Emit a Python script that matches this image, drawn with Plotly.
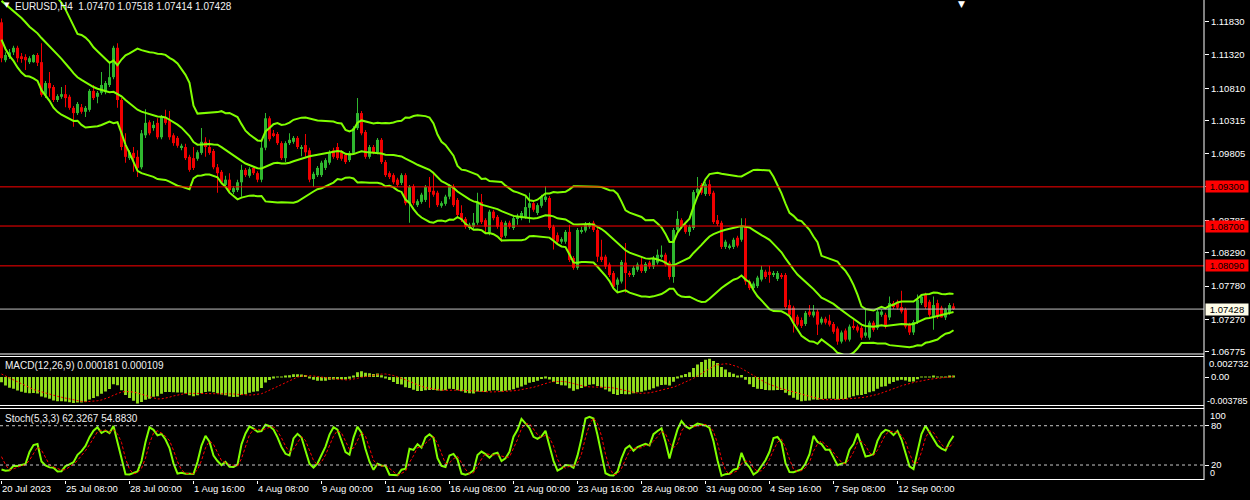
import numpy as np
import pandas as pd
import plotly.graph_objects as go

FONT = "Liberation Sans, Arial, sans-serif"

# ---- warm-up history (bars before the visible window, used only to seed indicators)
hist_close = [1.1110, 1.1130, 1.1135, 1.1140, 1.1160, 1.1170, 1.1210, 1.1225, 1.1230, 1.1235,
              1.1240, 1.1230, 1.1225, 1.1228, 1.1230, 1.1235, 1.1240, 1.1238, 1.1245, 1.1235,
              1.1230, 1.1240, 1.1255, 1.1265, 1.1230, 1.1225, 1.1215, 1.1210, 1.1195, 1.1200,
              1.1205, 1.1200, 1.1200, 1.1205, 1.1195, 1.1182]
hist_high = [1.1125, 1.1138, 1.1142, 1.1146, 1.1168, 1.1180, 1.1220, 1.1230, 1.1238, 1.1244,
             1.1249, 1.1245, 1.1240, 1.1235, 1.1236, 1.1240, 1.1248, 1.1250, 1.1252, 1.1248,
             1.1240, 1.1245, 1.1262, 1.1276, 1.1268, 1.1235, 1.1228, 1.1220, 1.1215, 1.1208,
             1.1215, 1.1210, 1.1206, 1.1210, 1.1210, 1.1198]
hist_low = [1.1060, 1.1105, 1.1125, 1.1128, 1.1135, 1.1150, 1.1165, 1.1205, 1.1220, 1.1225,
            1.1222, 1.1215, 1.1212, 1.1218, 1.1220, 1.1225, 1.1228, 1.1230, 1.1225, 1.1230,
            1.1225, 1.1228, 1.1235, 1.1250, 1.1222, 1.1218, 1.1210, 1.1203, 1.1188, 1.1185,
            1.1195, 1.1195, 1.1195, 1.1196, 1.1188, 1.1175]

# ---- visible H4 bars (20 Jul 2023 16:00 -> 14 Sep 2023)
opens = [
    1.1182, 1.1124, 1.1129, 1.1136, 1.1143, 1.1130, 1.1129, 1.1121, 1.1121, 1.1132,
    1.1121, 1.1071, 1.1089, 1.1083, 1.1063, 1.1068, 1.1072, 1.1068, 1.1051, 1.1043,
    1.1052, 1.1045, 1.1048, 1.1077, 1.1068, 1.1074, 1.1075, 1.1086, 1.1098, 1.1143,
    1.1063, 1.0994, 1.0974, 1.0982, 1.0976, 1.0960, 1.1009, 1.1029, 1.1020, 1.1028,
    1.1006, 1.1037, 1.1032, 1.1009, 1.1005, 1.0990, 1.0991, 1.0976, 1.0974, 1.0973,
    1.0982, 1.0999, 1.0991, 1.0985, 1.0960, 1.0953, 1.0933, 1.0941, 1.0922, 1.0925,
    1.0937, 1.0956, 1.0947, 1.0959, 1.0951, 1.0941, 1.0990, 1.1035, 1.1012, 1.1011,
    1.0997, 1.0974, 1.0997, 1.0999, 1.1005, 1.0988, 1.0994, 1.0986, 1.0942, 1.0948,
    1.0948, 1.0959, 1.0967, 1.0986, 1.0991, 1.0983, 1.0979, 1.0971, 1.0982, 1.1020,
    1.1043, 1.1014, 1.0976, 1.0991, 1.0983, 1.1002, 1.0968, 1.0951, 1.0948, 1.0941,
    1.0936, 1.0948, 1.0905, 1.0931, 1.0902, 1.0907, 1.0910, 1.0930, 1.0924, 1.0921,
    1.0901, 1.0904, 1.0915, 1.0931, 1.0910, 1.0890, 1.0881, 1.0867, 1.0869, 1.0875,
    1.0907, 1.0879, 1.0860, 1.0892, 1.0884, 1.0876, 1.0855, 1.0875, 1.0867, 1.0882,
    1.0882, 1.0884, 1.0898, 1.0905, 1.0890, 1.0901, 1.0910, 1.0913, 1.0869, 1.0856,
    1.0846, 1.0846, 1.0861, 1.0821, 1.0806, 1.0861, 1.0863, 1.0869, 1.0875, 1.0864,
    1.0823, 1.0823, 1.0811, 1.0798, 1.0780, 1.0785, 1.0814, 1.0798, 1.0795, 1.0803,
    1.0811, 1.0801, 1.0814, 1.0808, 1.0814, 1.0823, 1.0826, 1.0814, 1.0792, 1.0864,
    1.0879, 1.0872, 1.0861, 1.0867, 1.0921, 1.0933, 1.0919, 1.0934, 1.0921, 1.0879,
    1.0875, 1.0838, 1.0837, 1.0838, 1.0852, 1.0849, 1.0869, 1.0785, 1.0775, 1.0778,
    1.0788, 1.0800, 1.0800, 1.0795, 1.0789, 1.0795, 1.0795, 1.0749, 1.0745, 1.0731,
    1.0726, 1.0720, 1.0739, 1.0733, 1.0739, 1.0722, 1.0728, 1.0725, 1.0720, 1.0713,
    1.0693, 1.0710, 1.0696, 1.0717, 1.0716, 1.0714, 1.0702, 1.0699, 1.0722, 1.0714,
    1.0734, 1.0734, 1.0730, 1.0752, 1.0754, 1.0746, 1.0742, 1.0719, 1.0707, 1.0723,
    1.0752, 1.0765, 1.0754, 1.0731, 1.0752, 1.0745, 1.0730, 1.0737, 1.07470]
highs = [
    1.1188, 1.1136, 1.1141, 1.1146, 1.1146, 1.1135, 1.1133, 1.1130, 1.1133, 1.1135,
    1.1150, 1.1092, 1.1106, 1.1086, 1.1072, 1.1083, 1.1086, 1.1071, 1.1054, 1.1060,
    1.1057, 1.1054, 1.1080, 1.1086, 1.1077, 1.1106, 1.1092, 1.1121, 1.1146, 1.1150,
    1.1066, 1.1012, 1.0986, 1.0991, 1.0986, 1.1017, 1.1049, 1.1032, 1.1031, 1.1035,
    1.1040, 1.1048, 1.1046, 1.1012, 1.1008, 1.0996, 1.0996, 1.0979, 1.0991, 1.0986,
    1.1020, 1.1006, 1.1002, 1.0988, 1.0965, 1.0956, 1.0947, 1.0951, 1.0931, 1.0941,
    1.0964, 1.0959, 1.0960, 1.0962, 1.0954, 1.0999, 1.1043, 1.1038, 1.1017, 1.1014,
    1.1000, 1.1000, 1.1012, 1.1008, 1.1008, 1.0994, 1.1011, 1.0990, 1.0953, 1.0962,
    1.0970, 1.0974, 1.0986, 1.0990, 1.0997, 1.0986, 1.0982, 1.0985, 1.1023, 1.1066,
    1.1046, 1.1017, 1.0994, 1.0994, 1.1005, 1.1005, 1.0971, 1.0954, 1.0951, 1.0944,
    1.0951, 1.0951, 1.0933, 1.0934, 1.0911, 1.0921, 1.0933, 1.0945, 1.0953, 1.0924,
    1.0908, 1.0918, 1.0934, 1.0934, 1.0913, 1.0902, 1.0884, 1.0875, 1.0890, 1.0921,
    1.0919, 1.0882, 1.0895, 1.0895, 1.0887, 1.0879, 1.0878, 1.0878, 1.0885, 1.0889,
    1.0893, 1.0915, 1.0921, 1.0908, 1.0905, 1.0918, 1.0931, 1.0916, 1.0872, 1.0860,
    1.0853, 1.0864, 1.0872, 1.0824, 1.0867, 1.0869, 1.0876, 1.0876, 1.0878, 1.0867,
    1.0849, 1.0826, 1.0814, 1.0801, 1.0791, 1.0818, 1.0844, 1.0801, 1.0809, 1.0814,
    1.0823, 1.0815, 1.0817, 1.0824, 1.0834, 1.0840, 1.0829, 1.0817, 1.0867, 1.0893,
    1.0882, 1.0875, 1.0872, 1.0925, 1.0945, 1.0936, 1.0937, 1.0941, 1.0924, 1.0887,
    1.0878, 1.0849, 1.0843, 1.0852, 1.0855, 1.0882, 1.0882, 1.0788, 1.0785, 1.0794,
    1.0809, 1.0803, 1.0809, 1.0801, 1.0801, 1.0798, 1.0798, 1.0757, 1.0748, 1.0734,
    1.0730, 1.0740, 1.0749, 1.0749, 1.0742, 1.0731, 1.0731, 1.0734, 1.0723, 1.0716,
    1.0710, 1.0713, 1.0719, 1.0726, 1.0719, 1.0717, 1.0745, 1.0725, 1.0725, 1.0742,
    1.0742, 1.0737, 1.0762, 1.0755, 1.0757, 1.0771, 1.0745, 1.0722, 1.0726, 1.0765,
    1.0765, 1.0768, 1.0757, 1.0762, 1.0757, 1.0748, 1.0745, 1.0752, 1.07518]
lows = [
    1.1121, 1.1121, 1.1126, 1.1132, 1.1121, 1.1120, 1.1109, 1.1118, 1.1120, 1.1115,
    1.1068, 1.1066, 1.1068, 1.1060, 1.1060, 1.1065, 1.1052, 1.1048, 1.1022, 1.1040,
    1.1042, 1.1037, 1.1045, 1.1063, 1.1058, 1.1071, 1.1072, 1.1083, 1.1095, 1.1051,
    1.0986, 1.0967, 1.0971, 1.0953, 1.0945, 1.0957, 1.1005, 1.1009, 1.1016, 1.1003,
    1.1003, 1.1025, 1.1002, 1.0993, 1.0990, 1.0986, 1.0971, 1.0953, 1.0956, 1.0970,
    1.0979, 1.0976, 1.0979, 1.0957, 1.0921, 1.0934, 1.0930, 1.0922, 1.0919, 1.0922,
    1.0915, 1.0945, 1.0944, 1.0948, 1.0937, 1.0937, 1.0986, 1.1000, 1.1006, 1.0994,
    1.0971, 1.0968, 1.0994, 1.0996, 1.0988, 1.0977, 1.0976, 1.0937, 1.0930, 1.0945,
    1.0945, 1.0956, 1.0964, 1.0973, 1.0971, 1.0970, 1.0965, 1.0968, 1.0979, 1.1017,
    1.1009, 1.0973, 1.0973, 1.0980, 1.0980, 1.0965, 1.0945, 1.0942, 1.0934, 1.0930,
    1.0933, 1.0902, 1.0875, 1.0902, 1.0899, 1.0904, 1.0907, 1.0898, 1.0915, 1.0899,
    1.0898, 1.0901, 1.0911, 1.0899, 1.0884, 1.0876, 1.0866, 1.0864, 1.0866, 1.0872,
    1.0873, 1.0860, 1.0856, 1.0879, 1.0866, 1.0846, 1.0852, 1.0866, 1.0864, 1.0872,
    1.0879, 1.0881, 1.0875, 1.0892, 1.0887, 1.0898, 1.0907, 1.0864, 1.0834, 1.0843,
    1.0843, 1.0843, 1.0815, 1.0803, 1.0803, 1.0858, 1.0860, 1.0866, 1.0861, 1.0815,
    1.0815, 1.0804, 1.0792, 1.0774, 1.0768, 1.0782, 1.0768, 1.0792, 1.0792, 1.0800,
    1.0798, 1.0798, 1.0804, 1.0804, 1.0811, 1.0820, 1.0808, 1.0788, 1.0783, 1.0861,
    1.0866, 1.0858, 1.0855, 1.0864, 1.0918, 1.0918, 1.0916, 1.0916, 1.0873, 1.0870,
    1.0835, 1.0835, 1.0834, 1.0835, 1.0837, 1.0846, 1.0780, 1.0772, 1.0772, 1.0775,
    1.0785, 1.0789, 1.0783, 1.0792, 1.0786, 1.0789, 1.0743, 1.0731, 1.0707, 1.0716,
    1.0714, 1.0717, 1.0731, 1.0730, 1.0703, 1.0719, 1.0719, 1.0716, 1.0705, 1.0688,
    1.0690, 1.0693, 1.0693, 1.0711, 1.0707, 1.0696, 1.0699, 1.0696, 1.0708, 1.0711,
    1.0731, 1.0713, 1.0726, 1.0743, 1.0742, 1.0736, 1.0713, 1.0703, 1.0703, 1.0720,
    1.0749, 1.0743, 1.0731, 1.0711, 1.0728, 1.0730, 1.0726, 1.0734, 1.07414]
closes = [
    1.1127, 1.1132, 1.1136, 1.1143, 1.1127, 1.1127, 1.1124, 1.1127, 1.1132, 1.1120,
    1.1071, 1.1089, 1.1081, 1.1063, 1.1069, 1.1072, 1.1066, 1.1051, 1.1043, 1.1057,
    1.1045, 1.1051, 1.1077, 1.1066, 1.1074, 1.1086, 1.1089, 1.1098, 1.1143, 1.1063,
    1.0991, 1.0976, 1.0983, 1.0974, 1.0959, 1.1012, 1.1028, 1.1012, 1.1025, 1.1006,
    1.1037, 1.1028, 1.1006, 1.0997, 1.0993, 1.0993, 1.0974, 1.0956, 1.0959, 1.0983,
    1.0999, 1.0991, 1.0982, 1.0960, 1.0951, 1.0937, 1.0941, 1.0925, 1.0928, 1.0937,
    1.0956, 1.0948, 1.0957, 1.0951, 1.0941, 1.0990, 1.1035, 1.1003, 1.1009, 1.0997,
    1.0974, 1.0997, 1.1002, 1.1005, 1.0991, 1.0991, 1.0983, 1.0941, 1.0950, 1.0959,
    1.0967, 1.0971, 1.0983, 1.0976, 1.0974, 1.0973, 1.0968, 1.0982, 1.1020, 1.1043,
    1.1012, 1.0976, 1.0991, 1.0983, 1.1002, 1.0968, 1.0948, 1.0945, 1.0937, 1.0933,
    1.0948, 1.0905, 1.0930, 1.0905, 1.0908, 1.0918, 1.0930, 1.0922, 1.0918, 1.0902,
    1.0905, 1.0915, 1.0931, 1.0902, 1.0887, 1.0879, 1.0869, 1.0872, 1.0875, 1.0907,
    1.0876, 1.0869, 1.0892, 1.0882, 1.0869, 1.0853, 1.0875, 1.0869, 1.0882, 1.0885,
    1.0890, 1.0899, 1.0905, 1.0895, 1.0902, 1.0915, 1.0915, 1.0867, 1.0849, 1.0846,
    1.0850, 1.0861, 1.0818, 1.0806, 1.0864, 1.0864, 1.0873, 1.0873, 1.0864, 1.0823,
    1.0818, 1.0808, 1.0795, 1.0777, 1.0788, 1.0815, 1.0798, 1.0795, 1.0806, 1.0811,
    1.0801, 1.0812, 1.0808, 1.0821, 1.0826, 1.0826, 1.0811, 1.0792, 1.0864, 1.0881,
    1.0869, 1.0861, 1.0869, 1.0922, 1.0927, 1.0921, 1.0934, 1.0919, 1.0876, 1.0873,
    1.0838, 1.0846, 1.0840, 1.0849, 1.0840, 1.0869, 1.0785, 1.0775, 1.0782, 1.0791,
    1.0803, 1.0792, 1.0795, 1.0798, 1.0798, 1.0792, 1.0746, 1.0734, 1.0722, 1.0719,
    1.0717, 1.0737, 1.0734, 1.0739, 1.0719, 1.0728, 1.0722, 1.0719, 1.0708, 1.0693,
    1.0707, 1.0696, 1.0716, 1.0714, 1.0710, 1.0699, 1.0707, 1.0722, 1.0711, 1.0739,
    1.0739, 1.0716, 1.0752, 1.0746, 1.0745, 1.0739, 1.0716, 1.0707, 1.0723, 1.0757,
    1.0762, 1.0746, 1.0734, 1.0749, 1.0731, 1.0730, 1.0742, 1.0749, 1.07428]

tick_labels = ["20 Jul 2023", "25 Jul 08:00", "28 Jul 00:00", "1 Aug 16:00", "4 Aug 08:00",
               "9 Aug 00:00", "11 Aug 16:00", "16 Aug 08:00", "21 Aug 00:00", "23 Aug 16:00",
               "28 Aug 08:00", "31 Aug 00:00", "4 Sep 16:00", "7 Sep 08:00", "12 Sep 00:00"]
tick_step = 16

price_ticks = [1.11830, 1.11320, 1.10810, 1.10315, 1.09805, 1.09300, 1.08785,
               1.08290, 1.07780, 1.07270, 1.06775]
level_lines = [1.09300, 1.08700, 1.08090]
price_range = [1.06740, 1.12162]
macd_bounds = [-0.003785, 0.002732]
stoch_levels = [20, 80]
stoch_range = [-2.1, 106.3]
macd_title = "MACD(12,26,9) 0.000181 0.000109"
stoch_title = "Stoch(5,3,3) 62.3267 54.8830"
symbol = "EURUSD,H4"

N = len(closes)
assert len(opens) == N and len(highs) == N and len(lows) == N
assert len(hist_close) == len(hist_high) == len(hist_low)

# ---- indicators
nh = len(hist_close)
c_all = pd.Series(hist_close + closes, dtype=float)
h_all = pd.Series(hist_high + highs, dtype=float)
l_all = pd.Series(hist_low + lows, dtype=float)

mid = c_all.rolling(20).mean()
sd = c_all.rolling(20).std(ddof=0)
bb_up = (mid + 2 * sd).iloc[nh:].values
bb_mid = mid.iloc[nh:].values
bb_lo = (mid - 2 * sd).iloc[nh:].values

ema12 = c_all.ewm(span=12, adjust=False).mean()
ema26 = c_all.ewm(span=26, adjust=False).mean()
macd = ema12 - ema26
macd_sig = macd.rolling(9).mean()
macd_v = macd.iloc[nh:].values
macd_s = macd_sig.iloc[nh:].values

ll = l_all.rolling(5).min()
hh = h_all.rolling(5).max()
st_k = (c_all - ll).rolling(3).sum() / (hh - ll).rolling(3).sum() * 100
st_d = st_k.rolling(3).mean()
st_k_v = st_k.iloc[nh:].values
st_d_v = st_d.iloc[nh:].values

# ---- figure
BULL = "#2fb82f"
BEAR = "#f00000"
BAND = "#80ff00"
HIST = "#94e01c"
WHITE = "#ffffff"

idx = np.arange(N)
o = np.array(opens); h = np.array(highs); l = np.array(lows); c = np.array(closes)
cols = np.where(c >= o, BULL, BEAR)

fig = go.Figure()
fig.add_trace(go.Bar(x=idx, y=h - l, base=l, width=0.25,
                     marker=dict(color=cols, line=dict(width=0)), hoverinfo="skip"))
fig.add_trace(go.Bar(x=idx, y=np.maximum(np.abs(c - o), 0.00007), base=np.minimum(o, c), width=0.75,
                     marker=dict(color=cols, line=dict(width=0)), hoverinfo="skip"))
for band in (bb_up, bb_mid, bb_lo):
    fig.add_trace(go.Scatter(x=idx, y=band, mode="lines", line=dict(color=BAND, width=2),
                             hoverinfo="skip"))

fig.add_trace(go.Bar(x=idx, y=macd_v, width=0.72, yaxis="y2",
                     marker=dict(color=HIST, line=dict(width=0)), hoverinfo="skip"))
fig.add_trace(go.Scatter(x=idx, y=macd_s, yaxis="y2", mode="lines",
                         line=dict(color="#ff0000", width=1, dash="2px,2px"), hoverinfo="skip"))

fig.add_trace(go.Scatter(x=idx, y=st_k_v, yaxis="y3", mode="lines",
                         line=dict(color=BAND, width=2), hoverinfo="skip"))
fig.add_trace(go.Scatter(x=idx, y=st_d_v, yaxis="y3", mode="lines",
                         line=dict(color="#ff0000", width=1, dash="3px,2px"), hoverinfo="skip"))

tick_idx = list(range(0, N, tick_step))[:len(tick_labels)]
tickfont = dict(family=FONT, size=9.5, color=WHITE)

shapes = []
for lv in level_lines:
    shapes.append(dict(type="line", xref="paper", x0=0, x1=1, yref="y", y0=lv, y1=lv,
                       line=dict(color="#ff0000", width=1)))
shapes.append(dict(type="line", xref="paper", x0=0, x1=1, yref="y", y0=closes[-1], y1=closes[-1],
                   line=dict(color="#c0c0c0", width=1)))
for lv in stoch_levels:
    shapes.append(dict(type="line", xref="paper", x0=0, x1=1, yref="y3", y0=lv, y1=lv,
                       line=dict(color="#c8c8c8", width=1, dash="3px,3px")))
for ref, yy in (("y domain", 0), ("y2 domain", 1), ("y2 domain", 0), ("y3 domain", 1), ("y3 domain", 0)):
    shapes.append(dict(type="line", xref="paper", x0=0, x1=1, yref=ref, y0=yy, y1=yy,
                       line=dict(color=WHITE, width=1)))
shapes.append(dict(type="line", xref="paper", x0=1, x1=1, yref="paper", y0=0, y1=1,
                   line=dict(color=WHITE, width=1)))

ann = []
ann.append(dict(xref="paper", x=0, xanchor="left", xshift=2, yref="paper", y=1, yanchor="top", yshift=1,
                text="▼", showarrow=False, font=dict(family="DejaVu Sans", size=7, color=WHITE)))
ann.append(dict(xref="paper", x=0, xanchor="left", xshift=13, yref="paper", y=1, yanchor="top", yshift=1,
                text=f"{symbol}  {opens[-1]:.5f} {highs[-1]:.5f} {lows[-1]:.5f} {closes[-1]:.5f}",
                showarrow=False, font=dict(family=FONT, size=10, color="#f0f0f0")))
ann.append(dict(xref="paper", x=0.799, xanchor="center", yref="paper", y=1, yanchor="top", yshift=3,
                text="▼", showarrow=False, font=dict(family="DejaVu Sans", size=9, color=WHITE)))
for lv in level_lines:
    ann.append(dict(xref="paper", x=1, xanchor="left", xshift=1, yref="y", y=lv, text=f"{lv:.5f}",
                    showarrow=False, bgcolor="#ff0000", borderpad=1, width=40, height=9,
                    font=dict(family=FONT, size=9.5, color="#000000")))
ann.append(dict(xref="paper", x=1, xanchor="left", xshift=1, yref="y", y=closes[-1], text=f"{closes[-1]:.5f}",
                showarrow=False, bgcolor="#fffde8", borderpad=1, width=40, height=9,
                font=dict(family=FONT, size=9.5, color="#000000")))
ann.append(dict(xref="paper", x=0, xanchor="left", xshift=3, yref="y2 domain", y=1, yanchor="top", yshift=-1,
                text=macd_title, showarrow=False, font=dict(family=FONT, size=10, color="#f0f0f0")))
ann.append(dict(xref="paper", x=0, xanchor="left", xshift=3, yref="y3 domain", y=1, yanchor="top", yshift=-3,
                text=stoch_title, showarrow=False, font=dict(family=FONT, size=10, color="#f0f0f0")))
ann.append(dict(xref="paper", x=1, xanchor="left", xshift=3, yref="y2", y=macd_bounds[1], yshift=-7,
                text=f"{macd_bounds[1]:.6f}", showarrow=False, font=tickfont))
ann.append(dict(xref="paper", x=1, xanchor="left", xshift=1, yref="y2", y=macd_bounds[0], yshift=5,
                text=f"{macd_bounds[0]:.6f}", showarrow=False, font=dict(family=FONT, size=9, color=WHITE)))
ann.append(dict(xref="paper", x=1, xanchor="left", xshift=4, yref="y3", y=100, yshift=-3,
                text="100", showarrow=False, font=tickfont))
ann.append(dict(xref="paper", x=1, xanchor="left", xshift=4, yref="y3", y=0, yshift=5,
                text="0", showarrow=False, font=dict(family=FONT, size=9, color=WHITE)))
for ti, tl in zip(tick_idx, tick_labels):
    ann.append(dict(xref="x", x=ti, xanchor="left", xshift=-2, yref="paper", y=0, yanchor="top", yshift=-1,
                    text=tl, showarrow=False, font=tickfont))

yax_common = dict(side="right", anchor="x", showgrid=False, zeroline=False, showline=False,
                  ticks="outside", ticklen=4, tickcolor=WHITE, tickfont=tickfont, fixedrange=True)

fig.update_layout(
    width=1250, height=500,
    margin=dict(l=0, r=46, t=0, b=20),
    paper_bgcolor="#000000", plot_bgcolor="#000000",
    showlegend=False, barmode="overlay", hovermode=False,
    xaxis=dict(domain=[0, 1], range=[-0.375, 300.625], anchor="y3", showgrid=False, zeroline=False,
               showline=False, tickvals=tick_idx, ticks="outside", ticklen=3, tickcolor=WHITE,
               showticklabels=False, fixedrange=True),
    yaxis=dict(domain=[0.2625, 1.0], range=price_range, tickvals=price_ticks,
               ticktext=[f"{v:.5f}" for v in price_ticks], **yax_common),
    yaxis2=dict(domain=[0.15521, 0.25729], range=macd_bounds, tickvals=[0], ticktext=["0.00"], **yax_common),
    yaxis3=dict(domain=[0.00104, 0.14896], range=stoch_range, tickvals=stoch_levels,
                ticktext=[str(v) for v in stoch_levels], **yax_common),
    shapes=shapes, annotations=ann,
)

fig.write_html("out.html", config={"displayModeBar": False},
               post_script="document.body.style.margin='0';document.body.style.background='#000';")
